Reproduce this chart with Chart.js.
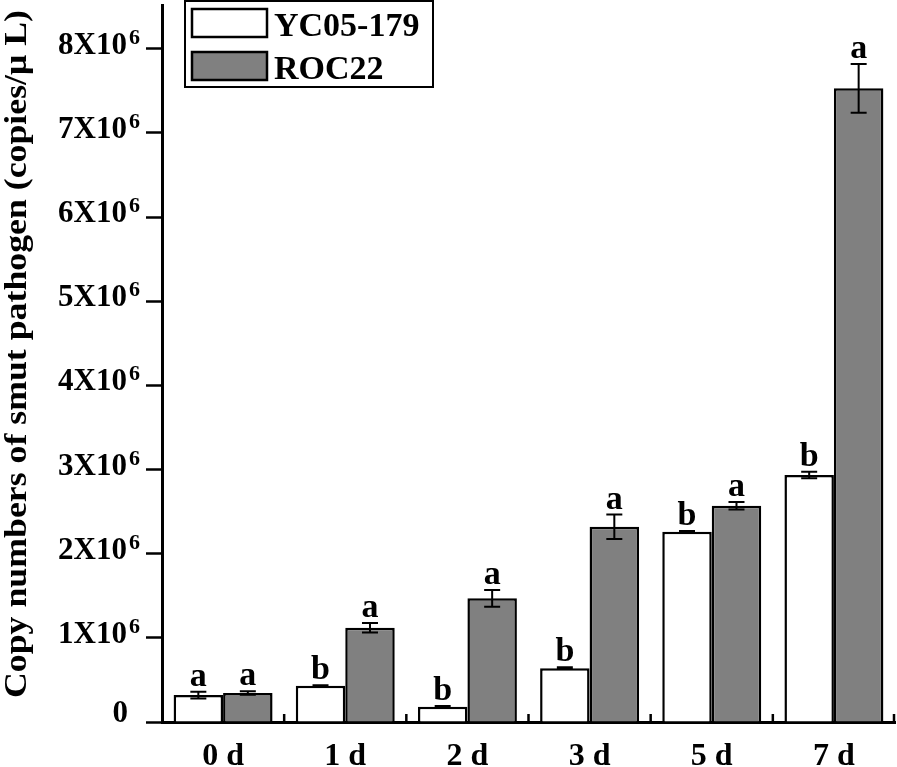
<!DOCTYPE html>
<html lang="en">
<head>
    <meta charset="UTF-8">
    <title>Smut pathogen copy numbers</title>
    <style>
        body { margin: 0; background: #fff; }
        #wrap { width: 897px; height: 767px; }
    </style>
</head>
<body>
<div id="wrap"><canvas id="myChart" width="897" height="767"></canvas></div>

<script src="https://cdn.jsdelivr.net/npm/chart.js"></script>
<script>
    // values in copies/uL
    const days = ['0 d', '1 d', '2 d', '3 d', '5 d', '7 d'];
    const yc05 = [0.32e6, 0.43e6, 0.18e6, 0.64e6, 2.26e6, 2.935e6];
    const roc22 = [0.345e6, 1.12e6, 1.47e6, 2.32e6, 2.57e6, 7.53e6];
    const yc05_err = [0.04e6, 0.006e6, 0.01e6, 0.01e6, 0.01e6, 0.04e6];
    const roc22_err = [0.02e6, 0.055e6, 0.1e6, 0.145e6, 0.045e6, 0.29e6];
    const yc05_letters = ['a', 'b', 'b', 'b', 'b', 'b'];
    const roc22_letters = ['a', 'a', 'a', 'a', 'a', 'a'];
    const yTicks = [0, 1e6, 2e6, 3e6, 4e6, 5e6, 6e6, 7e6, 8e6];
    const yTitle = 'Copy numbers of smut pathogen (copies/\u03bc L)';

    const errs = [yc05_err, roc22_err];
    const letters = [yc05_letters, roc22_letters];
    const serif = '"Liberation Serif", "Times New Roman", serif';

    const extras = {
        id: 'extras',
        afterDatasetsDraw(chart) {
            const ctx = chart.ctx;
            const y = chart.scales.y;
            ctx.save();
            ctx.strokeStyle = '#000';
            ctx.fillStyle = '#000';
            ctx.lineWidth = 2;
            ctx.font = 'bold 34px ' + serif;
            ctx.textAlign = 'center';
            ctx.textBaseline = 'alphabetic';
            chart.data.datasets.forEach((ds, di) => {
                chart.getDatasetMeta(di).data.forEach((bar, i) => {
                    const v = ds.data[i], e = errs[di][i];
                    const yt = y.getPixelForValue(v + e), yb = y.getPixelForValue(v - e);
                    ctx.beginPath();
                    ctx.moveTo(bar.x, yt); ctx.lineTo(bar.x, yb);
                    ctx.moveTo(bar.x - 8, yt); ctx.lineTo(bar.x + 8, yt);
                    ctx.moveTo(bar.x - 8, yb); ctx.lineTo(bar.x + 8, yb);
                    ctx.stroke();
                    ctx.fillText(letters[di][i], bar.x, yt - 6);
                });
            });
            ctx.restore();
        },
        afterDraw(chart) {
            const ctx = chart.ctx;
            const y = chart.scales.y, x = chart.scales.x;
            ctx.save();
            ctx.fillStyle = '#000';
            ctx.strokeStyle = '#000';

            // y tick labels with superscript
            y.ticks.forEach(t => {
                const py = y.getPixelForValue(t.value);
                const n = Math.round(t.value / 1e6);
                ctx.textBaseline = 'middle';
                ctx.font = 'bold 31px ' + serif;
                ctx.textAlign = 'right';
                if (n === 0) {
                    ctx.fillText('0', 128, py - 8);
                } else {
                    ctx.fillText(n + 'X10', 127, py - 3);
                    ctx.font = 'bold 22px ' + serif;
                    ctx.textAlign = 'left';
                    ctx.textBaseline = 'alphabetic';
                    ctx.fillText('6', 129, py - 5);
                }
            });

            // y title, stretched along its length
            ctx.save();
            ctx.translate(26, 354);
            ctx.rotate(-Math.PI / 2);
            ctx.font = 'bold 31px ' + serif;
            const w = ctx.measureText(yTitle).width;
            ctx.scale(688 / w, 1);
            ctx.textAlign = 'center';
            ctx.textBaseline = 'alphabetic';
            ctx.fillText(yTitle, 0, 0);
            ctx.restore();

            // small inward ticks between categories
            ctx.lineWidth = 2.5;
            const step = (x.right - x.left) / days.length;
            ctx.beginPath();
            for (let i = 1; i <= days.length; i++) {
                const px = x.left + i * step - (i === days.length ? 1 : 0);
                ctx.moveTo(px, x.top);
                ctx.lineTo(px, x.top - 8);
            }
            ctx.stroke();

            // legend
            ctx.lineWidth = 2;
            ctx.strokeRect(185, 1, 248, 86);
            chart.data.datasets.forEach((ds, di) => {
                const top = di === 0 ? 9 : 52;
                ctx.fillStyle = ds.backgroundColor;
                ctx.fillRect(192, top, 75, 28);
                ctx.lineWidth = 2.5;
                ctx.strokeRect(192, top, 75, 28);
                ctx.fillStyle = '#000';
                ctx.font = 'bold 34px ' + serif;
                ctx.textAlign = 'left';
                ctx.textBaseline = 'alphabetic';
                ctx.fillText(ds.label, 274, top + 27);
            });
            ctx.restore();
        }
    };

    const ctx = document.getElementById('myChart');
    const myChart = new Chart(ctx, {
        type: 'bar',
        data: {
            labels: days,
            datasets: [
                {label: 'YC05-179', data: yc05, backgroundColor: '#ffffff', borderColor: '#000', borderWidth: 2.5},
                {label: 'ROC22', data: roc22, backgroundColor: '#808080', borderColor: '#000', borderWidth: 2.5},
            ],
        },
        options: {
            responsive: false,
            animation: false,
            events: [],
            layout: {padding: {top: 5, right: 2, left: 0, bottom: 0}},
            datasets: {bar: {categoryPercentage: 0.81, barPercentage: 1}},
            plugins: {legend: {display: false}, tooltip: {enabled: false}},
            scales: {
                x: {
                    z: 1,
                    grid: {display: false, drawTicks: false},
                    border: {display: true, color: '#000', width: 3},
                    ticks: {color: '#000', padding: 16, font: {family: serif, size: 32, weight: 'bold'}},
                    afterFit: s => { s.height = 45; },
                },
                y: {
                    z: 1,
                    min: 0,
                    max: 8.52e6,
                    afterBuildTicks: s => { s.ticks = yTicks.map(v => ({value: v})); },
                    grid: {drawOnChartArea: false, drawTicks: true, tickLength: 16, tickColor: '#000', tickWidth: 2.5},
                    border: {display: true, color: '#000', width: 3},
                    ticks: {display: false},
                    afterFit: s => { s.width = 162; },
                },
            },
        },
        plugins: [extras],
    });
</script>
</body>
</html>
